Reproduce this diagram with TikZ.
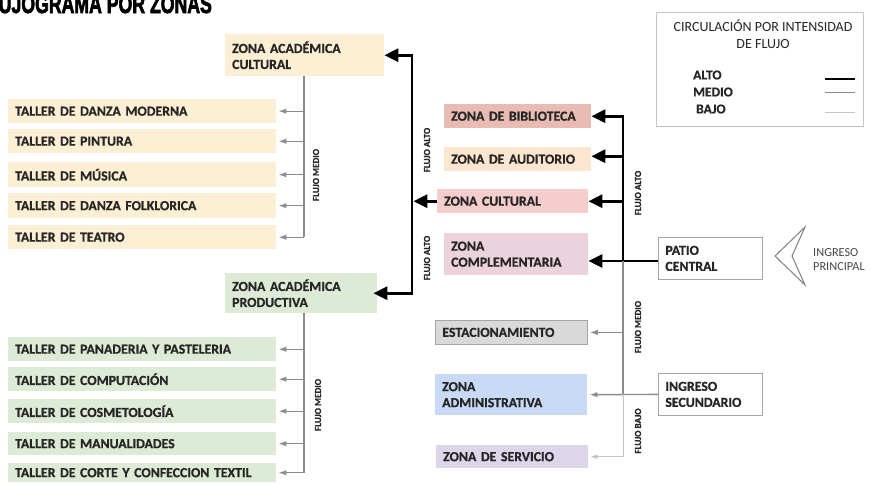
\documentclass[tikz,border=0pt]{standalone}
\usepackage{fontspec}
\setmainfont{Carlito}[BoldFeatures={FakeBold=0.8}]
\newfontfamily\titlefont[FakeBold=3]{Liberation Sans Bold}
\usetikzlibrary{arrows.meta}

\definecolor{txt}{HTML}{262626}
\definecolor{cyellow}{HTML}{FDEFD3}
\definecolor{cgreen}{HTML}{DDEBD6}
\definecolor{cbibl}{HTML}{E8BCB3}
\definecolor{caud}{HTML}{FCE6CF}
\definecolor{ccult}{HTML}{F4CDCC}
\definecolor{ccomp}{HTML}{EBD2DD}
\definecolor{cest}{HTML}{D9D9D9}
\definecolor{cadm}{HTML}{C9DAF6}
\definecolor{cserv}{HTML}{DDD5E9}
\definecolor{medgray}{HTML}{8C8C8C}
\definecolor{lowgray}{HTML}{C4C4C4}
\definecolor{framegray}{HTML}{A6A6A6}

\newcommand\zfont{\fontsize{13.8}{16}\selectfont\bfseries}
\newcommand\flabelfont{\fontsize{9.2}{10}\selectfont\bfseries}

% zone box: name, style, x1, y1, x2, y2, text
\newcommand\zonebox[7]{%
  \pgfmathsetmacro\zbW{#5-#3-14}%
  \pgfmathsetmacro\zbH{#6-#4}%
  \node[zone,#2,text width=\zbW pt,minimum height=\zbH pt] (#1) at (#3,#4) {#7};}

\tikzset{
  zone/.style={rectangle, inner xsep=7pt, inner ysep=1pt, anchor=north west,
    align=left, font=\zfont, text=txt},
  alto/.style={line width=2.8pt, black},
  altoarr/.style={alto, -{Triangle[length=14pt,width=13pt]}},
  medio/.style={line width=1.4pt, medgray},
  medioarr/.style={medio, -{Latex[length=8pt,width=5.5pt]}, shorten >=2pt},
  bajo/.style={line width=1pt, lowgray},
  bajoarr/.style={bajo, -{Latex[length=7pt,width=5pt]}, shorten >=2pt},
  flabel/.style={rotate=90, font=\flabelfont, text=txt, inner sep=0pt},
  legitem/.style={font=\fontsize{13.5}{14}\selectfont\bfseries, text=txt, anchor=west, inner sep=0pt},
}

\begin{document}
\begin{tikzpicture}[x=1pt,y=-1pt]
\useasboundingbox (0,0) rectangle (870,482);
\clip (0,0) rectangle (870,482);
\fill[white] (0,0) rectangle (870,482);

% title
\node[anchor=base west, inner sep=0pt, xscale=0.68, font=\titlefont\fontsize{26}{26}\selectfont]
  (title) at (-23,13) {FLUJOGRAMA POR ZONAS};

% legend
\node[draw=lowgray, line width=1.2pt, minimum width=207pt, minimum height=114pt,
  anchor=north west] (legend) at (656,12) {};
\node[font=\fontsize{14}{17}\selectfont, text=txt, align=center, anchor=north]
  (legtitle) at (763,16) {CIRCULACIÓN POR INTENSIDAD\\DE FLUJO};
\node[legitem] (lalto) at (693,75) {ALTO};
\node[legitem] (lmedio) at (693,92) {MEDIO};
\node[legitem] (lbajo) at (696,109) {BAJO};
\draw[line width=2.6pt, black] (825,79) -- (855,79);
\draw[line width=1pt, medgray] (825,92) -- (855,92);
\draw[line width=0.8pt, lowgray] (825,112) -- (855,112);

% academic cultural group
\zonebox{acul}{fill=cyellow}{225}{34}{384}{76}{ZONA ACADÉMICA\\CULTURAL}
\zonebox{t1}{fill=cyellow}{8}{99}{276}{123}{TALLER DE DANZA MODERNA}
\zonebox{t2}{fill=cyellow}{8}{129}{276}{153}{TALLER DE PINTURA}
\zonebox{t3}{fill=cyellow}{8}{162}{276}{187}{TALLER DE MÚSICA}
\zonebox{t4}{fill=cyellow}{8}{193}{276}{218}{TALLER DE DANZA FOLKLORICA}
\zonebox{t5}{fill=cyellow}{8}{225}{276}{249}{TALLER DE TEATRO}

% academic productive group
\zonebox{apro}{fill=cgreen}{225}{273}{377}{313}{ZONA ACADÉMICA\\PRODUCTIVA}
\zonebox{p1}{fill=cgreen}{8}{337}{276}{361}{TALLER DE PANADERIA Y PASTELERIA}
\zonebox{p2}{fill=cgreen}{8}{367}{276}{391}{TALLER DE COMPUTACIÓN}
\zonebox{p3}{fill=cgreen}{8}{399}{276}{423}{TALLER DE COSMETOLOGÍA}
\zonebox{p4}{fill=cgreen}{8}{432}{276}{455}{TALLER DE MANUALIDADES}
\zonebox{p5}{fill=cgreen}{8}{463}{276}{482}{TALLER DE CORTE Y CONFECCION TEXTIL}

% central zones
\zonebox{bibl}{fill=cbibl}{444}{104}{591}{128}{ZONA DE BIBLIOTECA}
\zonebox{aud}{fill=caud}{444}{147}{591}{171}{ZONA DE AUDITORIO}
\zonebox{zcul}{fill=ccult}{437}{189}{588}{213}{ZONA CULTURAL}
\zonebox{comp}{fill=ccomp}{444}{233}{588}{275}{ZONA\\COMPLEMENTARIA}
\zonebox{est}{fill=cest, draw=framegray, line width=0.8pt}{435}{320}{587}{344}{ESTACIONAMIENTO}
\zonebox{adm}{fill=cadm}{435}{374}{587}{415}{ZONA\\ADMINISTRATIVA}
\zonebox{serv}{fill=cserv}{436}{445}{588}{468}{ZONA DE SERVICIO}

% entrances
\zonebox{patio}{fill=white, draw=framegray, line width=0.8pt}{658}{237}{762}{279}{PATIO\\CENTRAL}
\zonebox{ingsec}{fill=white, draw=framegray, line width=0.8pt}{658}{373}{762}{415}{INGRESO\\SECUNDARIO}
\draw[line width=1pt, gray, line join=miter] (805,227) -- (775,256) -- (805,285) -- (792,256) -- cycle;
\node[font=\fontsize{12.3}{14}\selectfont, text=txt!85, align=left, anchor=west, inner sep=0pt]
  (ingprin) at (813,260) {INGRESO\\PRINCIPAL};

% spines
\coordinate (ls) at (304,0);
\coordinate (cs) at (412,0);
\coordinate (rs) at (623,0);
\coordinate (jR) at (623,261);
\coordinate (jA) at (623,394);

% medium flow, cultural workshops
\draw[medio] (acul.south -| ls) -- (t5.east -| ls);
\foreach \t in {t1,t2,t3,t4,t5} \draw[medioarr] (\t.east -| ls) -- (\t.east);
% medium flow, productive workshops
\draw[medio] (apro.south -| ls) -- (p5.east -| ls);
\foreach \t in {p1,p2,p3,p4,p5} \draw[medioarr] (\t.east -| ls) -- (\t.east);

% high flow, central spine
\draw[alto] (acul.east -| cs) -- (apro.east -| cs);
\draw[altoarr] ([xshift=1.4pt]acul.east -| cs) -- (acul.east);
\draw[altoarr] ([xshift=1.4pt]apro.east -| cs) -- ([xshift=-4pt]apro.east);
\draw[altoarr] (zcul.west) -- ([xshift=1.4pt]zcul.west -| cs);

% high flow, patio spine
\draw[alto] (bibl.east -| rs) -- (jR);
\draw[alto] (jR -| patio.west) -- (jR);
\draw[altoarr] ([xshift=1.4pt]bibl.east -| rs) -- (bibl.east);
\draw[altoarr] ([yshift=3pt]aud.east -| rs) -- ([yshift=3pt]aud.east);
\draw[altoarr] (zcul.east -| rs) -- (zcul.east);
\draw[altoarr] (jR) -- (jR -| comp.east);

% medium and low flow
\draw[medio] (jR) -- (jA);
\draw[medioarr] (est.east -| rs) -- (est.east);
\draw[medioarr] (ingsec.west) -- (adm.east);
\draw[bajo] (jA) -- (serv.east -| rs);
\draw[bajoarr] (serv.east -| rs) -- (serv.east);

% flow labels
\node[flabel] (fm1) at (316,175) {FLUJO MEDIO};
\node[flabel] (fm2) at (318,405) {FLUJO MEDIO};
\node[flabel] (fa1) at (427,150) {FLUJO ALTO};
\node[flabel] (fa2) at (427,258) {FLUJO ALTO};
\node[flabel] (fa3) at (638,193) {FLUJO ALTO};
\node[flabel] (fm3) at (638,327) {FLUJO MEDIO};
\node[flabel] (fb1) at (638,431) {FLUJO BAJO};
\end{tikzpicture}
\end{document}
